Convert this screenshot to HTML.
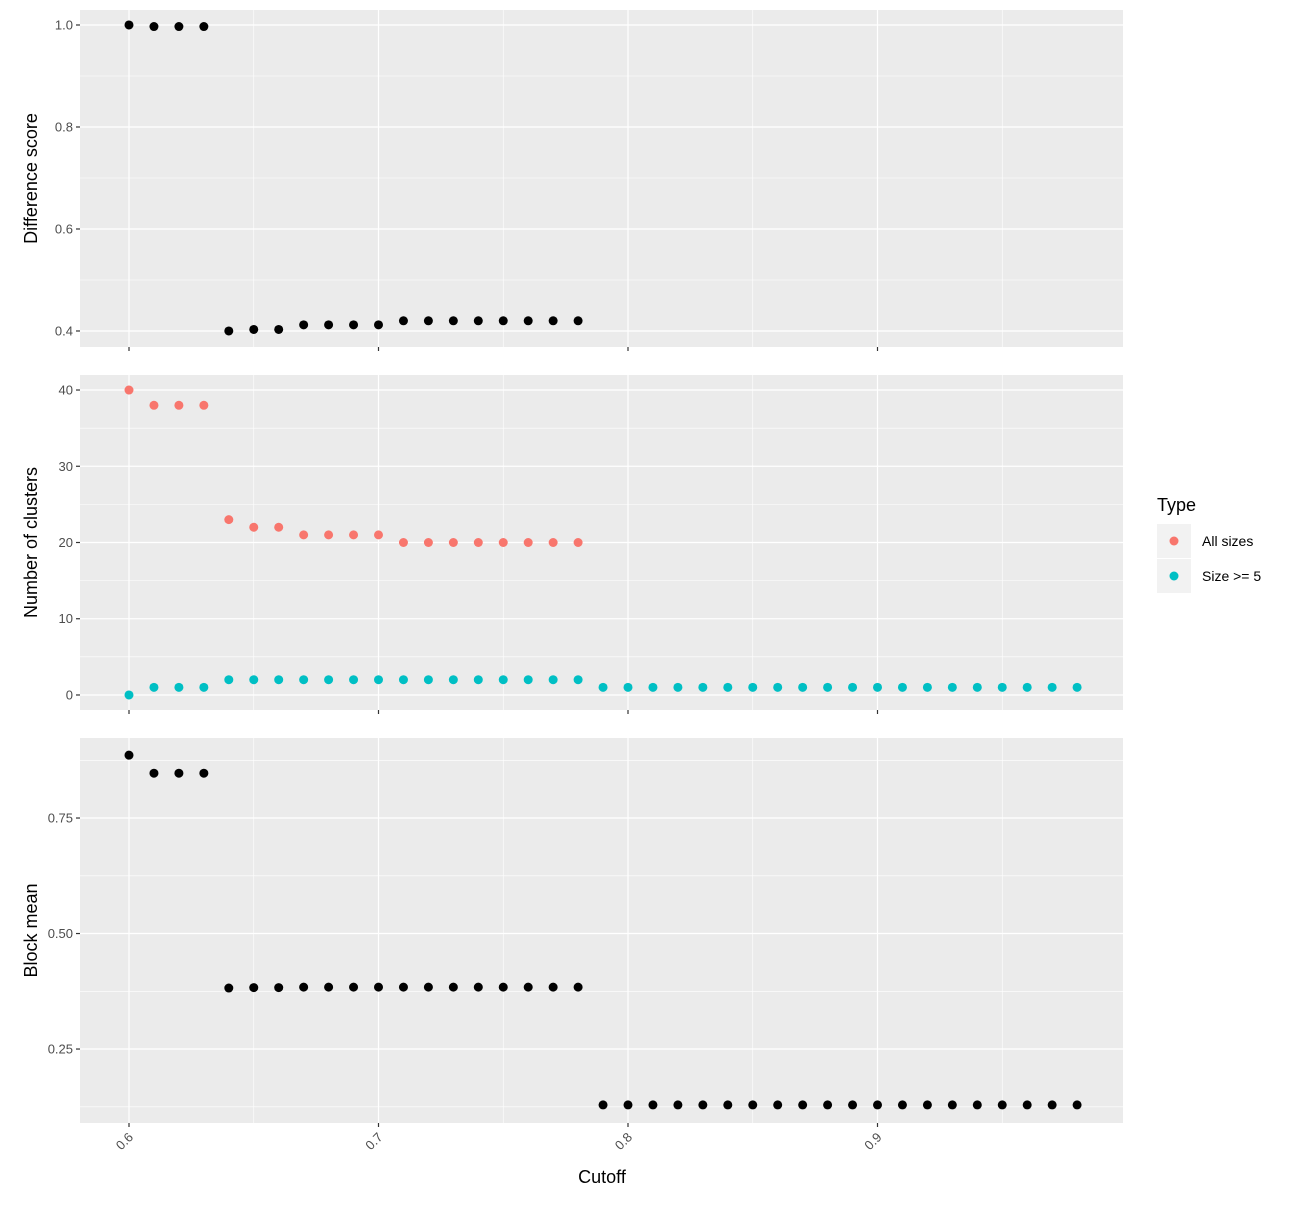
<!DOCTYPE html>
<html><head><meta charset="utf-8"><style>body{margin:0;background:#fff}svg{font-family:"Liberation Sans",sans-serif}</style></head>
<body>
<svg id="c" width="1300" height="1200" xmlns="http://www.w3.org/2000/svg"></svg>
<script>
const cutoffs=[0.6,0.61,0.62,0.63,0.64,0.65,0.66,0.67,0.68,0.69,0.7,0.71,0.72,0.73,0.74,0.75,0.76,0.77,0.78,0.79,0.8,0.81,0.82,0.83,0.84,0.85,0.86,0.87,0.88,0.89,0.9,0.91,0.92,0.93,0.94,0.95,0.96,0.97,0.98];
const diffScore=[1.0,0.997,0.997,0.997,0.4,0.403,0.403,0.412,0.412,0.412,0.412,0.42,0.42,0.42,0.42,0.42,0.42,0.42,0.42];
const allSizes=[40,38,38,38,23,22,22,21,21,21,21,20,20,20,20,20,20,20,20];
const size5=[0,1,1,1,2,2,2,2,2,2,2,2,2,2,2,2,2,2,2,1,1,1,1,1,1,1,1,1,1,1,1,1,1,1,1,1,1,1,1];
const blockMean=[0.886,0.847,0.847,0.847,0.382,0.383,0.383,0.384,0.384,0.384,0.384,0.384,0.384,0.384,0.384,0.384,0.384,0.384,0.384,0.129,0.129,0.129,0.129,0.129,0.129,0.129,0.129,0.129,0.129,0.129,0.129,0.129,0.129,0.129,0.129,0.129,0.129,0.129,0.129];
const xTicks=[0.6,0.7,0.8,0.9];
const p1Ticks=[0.4,0.6,0.8,1.0];
const p2Ticks=[0,10,20,30,40];
const p3Ticks=[0.25,0.5,0.75];

const NS="http://www.w3.org/2000/svg";
const svg=document.getElementById('c');
function el(t,a,p){const e=document.createElementNS(NS,t);for(const k in a)e.setAttribute(k,a[k]);(p||svg).appendChild(e);return e;}
const X0=80,X1=1123;
const x=v=>129+(v-0.6)*2495;
function panel(name,top,bot,vTop,vBot,ticks,minor,fmt,title){
  const y=v=>top+(vTop-v)/(vTop-vBot)*(bot-top);
  const g=el('g',{});
  
  
  const bg=el('rect',{x:X0,y:top,width:X1-X0,height:bot-top,fill:'#ebebeb'},g);
  
  
  minor.forEach(v=>el('line',{x1:X0,x2:X1,y1:y(v),y2:y(v),stroke:'#fff','stroke-width':0.6},g));
  [0.65,0.75,0.85,0.95].forEach(v=>el('line',{x1:x(v),x2:x(v),y1:top,y2:bot,stroke:'#fff','stroke-width':0.6},g));
  ticks.forEach(v=>{el('line',{x1:X0,x2:X1,y1:y(v),y2:y(v),stroke:'#fff','stroke-width':1.2},g);
    el('line',{x1:X0-4,x2:X0,y1:y(v),y2:y(v),stroke:'#333','stroke-width':1.2},g);
    const t=el('text',{x:X0-7,y:y(v)+4.5,'text-anchor':'end','font-size':13,fill:'#4d4d4d'},g);t.textContent=fmt(v);
    });
  xTicks.forEach(v=>{el('line',{x1:x(v),x2:x(v),y1:top,y2:bot,stroke:'#fff','stroke-width':1.2},g);
    el('line',{x1:x(v),x2:x(v),y1:bot,y2:bot+4,stroke:'#333','stroke-width':1.2},g);});
  const yc=(top+bot)/2;
  const tt=el('text',{x:0,y:0,transform:`translate(37,${yc}) rotate(-90)`,'text-anchor':'middle','font-size':18,fill:'#000'},g);
  tt.textContent=title;
  
  
  return {y,g};
}
function pts(p,vals,col,name){vals.forEach((v,i)=>{const c=el('circle',{cx:x(cutoffs[i]),cy:p.y(v),r:4.5,fill:col},p.g);
  });}

const p1=panel('difference-panel',10,347,1.0294,0.3686,p1Ticks,[0.5,0.7,0.9],v=>v.toFixed(1),'Difference score');
pts(p1,diffScore,'#000','diff-point');
const p2=panel('clusters-panel',375,710,41.97,-1.97,p2Ticks,[5,15,25,35],v=>String(v),'Number of clusters');
pts(p2,allSizes,'#F8766D','all-sizes-point');
pts(p2,size5,'#00BFC4','size5-point');
const p3=panel('block-mean-panel',738,1123,0.9232,0.0899,p3Ticks,[0.125,0.375,0.625,0.875],v=>v.toFixed(2),'Block mean');
pts(p3,blockMean,'#000','block-mean-point');
xTicks.forEach(v=>{const t=el('text',{x:0,y:0,transform:`translate(${x(v)+5},${1138}) rotate(-45)`,'text-anchor':'end','font-size':13,fill:'#4d4d4d'});
  t.textContent=v.toFixed(1);});
const xt=el('text',{x:602,y:1183,'text-anchor':'middle','font-size':18,fill:'#000'});xt.textContent='Cutoff';

const lg=el('g',{});
const lt=el('text',{x:1157,y:511,'font-size':18,fill:'#000'},lg);lt.textContent='Type';
[['All sizes','#F8766D',541],['Size >= 5','#00BFC4',576]].forEach(([n,c,yy])=>{
  el('rect',{x:1157,y:yy-17,width:34,height:34,fill:'#f2f2f2'},lg);
  el('circle',{cx:1174,cy:yy,r:4.5,fill:c},lg);
  const t=el('text',{x:1202,y:yy+5,'font-size':14,fill:'#000'},lg);t.textContent=n;
  });
</script>
</body></html>
